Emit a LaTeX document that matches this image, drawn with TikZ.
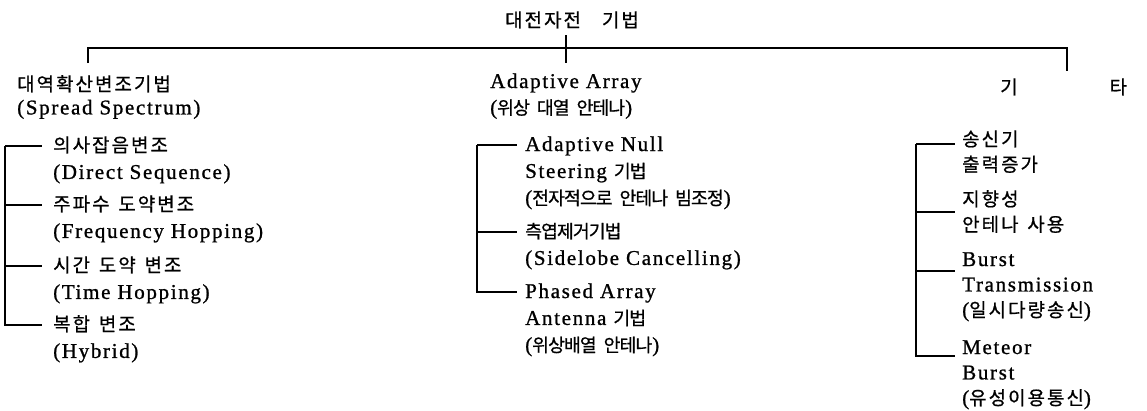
\documentclass[tikz,border=0pt]{standalone}
\usepackage{fontspec}
\setmainfont{Liberation Serif}[LetterSpace=8, FakeBold=1]
\newfontfamily\kr{Noto Sans CJK KR}[Scale=0.9, LetterSpace=11, WordSpace=1.4, FakeBold=0.8]
\newfontfamily\krn{Noto Sans CJK KR}[Scale=0.87, LetterSpace=-5, WordSpace=2.2, FakeBold=0.8]
\usetikzlibrary{positioning}

\tikzset{
  txt/.style={inner sep=0pt, anchor=west, text height=15pt, text depth=3pt,
    font=\fontsize{21}{23}\selectfont},
  line/.style={line width=1.2pt},
}

\begin{document}
\begin{tikzpicture}[x=1pt, y=-1pt]
    \useasboundingbox (0,0) rectangle (1147,410);

    % Title and bar
    \node[txt, anchor=center] (title) at (572,21) {{\kr 대전자전\hspace{21pt}기법}};
    \coordinate (barL) at (88,48);
    \coordinate (barR) at (1067,48);
    \coordinate (dropL) at (88,63);
    \coordinate (dropR) at (1067,71);
    \coordinate (tickT) at (566,35);
    \coordinate (tickB) at (566,63);
    \draw[line] (dropL) -- (barL) -- (barR) -- (dropR);
    \draw[line] (tickT) -- (tickB);

    % Headers
    \node[txt] (ss) at (17,85) {{\kr 대역확산변조기법}};
    \node[txt, below right=5pt and 0pt of ss.south west] (ssen) {(Spread Spectrum)};
    \node[txt] (aa) at (490,82) {Adaptive Array};
    \node[txt, below right=8pt and 0pt of aa.south west] (aakr) {({\krn 위상 대열 안테나})};
    \node[txt] (etc) at (1000,88) {{\kr 기\hspace{92pt}타}};

    % Spread spectrum items
    \node[txt] (ds) at (53,146) {{\kr 의사잡음변조}};
    \node[txt, below right=8.5pt and 0pt of ds.south west] (dsen) {(Direct Sequence)};
    \node[txt] (fh) at (53,205) {{\kr 주파수 도약변조}};
    \node[txt, below right=8.5pt and 0pt of fh.south west] (fhen) {(Frequency Hopping)};
    \node[txt] (th) at (53,266) {{\kr 시간 도약 변조}};
    \node[txt, below right=8.5pt and 0pt of th.south west] (then) {(Time Hopping)};
    \node[txt] (hy) at (53,325) {{\kr 복합 변조}};
    \node[txt, below right=8.5pt and 0pt of hy.south west] (hyen) {(Hybrid)};

    \coordinate[left=48pt of ds.west] (spL);
    \draw[line, shorten >=11pt] (spL) -- (ds.west);
    \draw[line, shorten >=11pt] (spL) |- (fh.west);
    \draw[line, shorten >=11pt] (spL) |- (th.west);
    \draw[line, shorten >=11pt] (spL) |- (hy.west);

    % Adaptive array items
    \node[txt] (ns) at (525,145) {Adaptive Null};
    \node[txt, below right=8.5pt and 0pt of ns.south west] (ns2) {Steering {\krn 기법}};
    \node[txt, below right=8.5pt and 0pt of ns2.south west] (ns3) {({\krn 전자적으로 안테나 빔조정})};
    \node[txt] (sc) at (525,232) {{\krn 측엽제거기법}};
    \node[txt, below right=8.5pt and 0pt of sc.south west] (sc2) {(Sidelobe Cancelling)};
    \node[txt] (pa) at (525,292) {Phased Array};
    \node[txt, below right=8.5pt and 0pt of pa.south west] (pa2) {Antenna {\krn 기법}};
    \node[txt, below right=8.5pt and 0pt of pa2.south west] (pa3) {({\krn 위상배열 안테나})};

    \coordinate[left=48pt of ns.west] (spM);
    \draw[line, shorten >=8pt] (spM) -- (ns.west);
    \draw[line, shorten >=8pt] (spM) |- (sc.west);
    \draw[line, shorten >=8pt] (spM) |- (pa.west);

    % Other items
    \node[txt] (tx) at (962,140) {{\kr 송신기}};
    \node[txt, below right=7pt and 0pt of tx.south west] (tx2) {{\kr 출력증가}};
    \node[txt] (dir) at (962,200) {{\kr 지향성}};
    \node[txt, below right=7pt and 0pt of dir.south west] (dir2) {{\kr 안테나 사용}};
    \node[txt] (bt) at (962,260) {Burst};
    \node[txt, below right=7pt and 0pt of bt.south west] (bt2) {Transmission};
    \node[txt, below right=7pt and 0pt of bt2.south west] (bt3) {({\kr 일시다량송신})};
    \node[txt] (mb) at (962,348) {Meteor};
    \node[txt, below right=7pt and 0pt of mb.south west] (mb2) {Burst};
    \node[txt, below right=7pt and 0pt of mb2.south west] (mb3) {({\kr 유성이용통신})};

    \coordinate (spR) at ([xshift=-46pt, yshift=-4pt]tx.west);
    \draw[line, shorten >=7pt] (spR) -- ([yshift=-4pt]tx.west);
    \draw[line, shorten >=7pt] (spR) |- ([yshift=-12pt]dir.west);
    \draw[line, shorten >=7pt] (spR) |- ([yshift=-11pt]bt.west);
    \draw[line, shorten >=7pt] (spR) |- ([yshift=-8pt]mb.west);
\end{tikzpicture}
\end{document}
